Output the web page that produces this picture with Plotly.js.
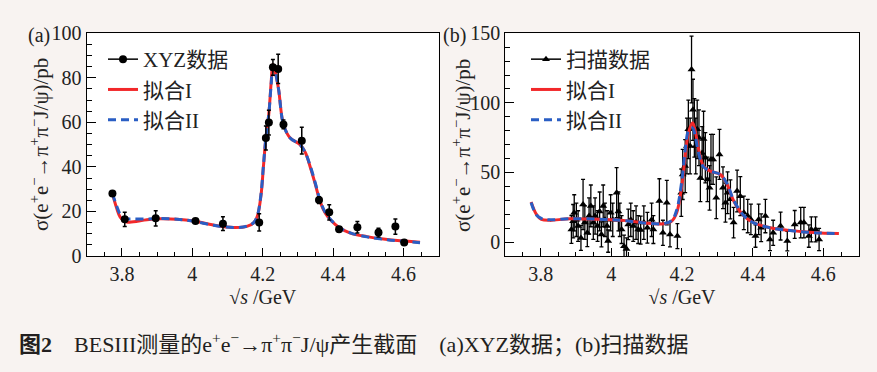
<!DOCTYPE html>
<html><head><meta charset="utf-8">
<script src="https://cdn.plot.ly/plotly-3.0.1.min.js"></script>
<style>html,body{margin:0;padding:0;background:#f8f3f1;}#chart{width:877px;height:372px;}</style>
</head><body><div id="chart"></div>
<script>
// Panel (a): XYZ data
const xyzX = [3.773,3.808,3.896,4.009,4.087,4.190,4.209,4.2175,4.229,4.244,4.259,4.311,4.360,4.389,4.417,4.469,4.529,4.577,4.602];
const xyzY = [28.1,16.5,16.9,15.7,14.5,15.1,53.0,59.9,84.7,84.0,59.1,51.8,25.1,19.6,12.0,12.9,10.5,13.2,6.1];
const xyzErr = [1.0,3.2,3.4,1.0,3.1,3.9,5.4,5.6,3.5,6.6,2.0,6.0,1.5,3.4,1.0,2.6,2.0,3.4,1.0];

// Panel (a): fit curves
const fitAX = [3.773,3.785,3.795,3.81,3.833,3.871,3.909,3.956,4.004,4.06,4.117,4.155,4.175,4.185,4.195,4.202,4.209,4.2175,4.224,4.229,4.235,4.245,4.259,4.278,4.306,4.321,4.335,4.349,4.363,4.378,4.395,4.417,4.449,4.496,4.543,4.591,4.647];
const fitA1 = [28.0,21.5,17.5,15.3,15.4,16.3,16.7,16.5,15.7,13.9,12.8,13.3,15.0,18.0,27,40,53,64,78,86,83,75,59,53,50,46.5,40,32.5,24.5,19.2,15.8,12.8,10.3,8.7,7.6,6.8,6.2];
const fitA2 = [28.0,22.5,18.8,16.8,16.6,16.6,16.8,16.5,15.6,13.8,12.8,13.4,15.1,18.2,27.5,40.5,53,64,77,85,83,75,59,53,50,46.5,40.5,33,25,19.5,16,12.8,10.4,8.6,7.5,6.7,6.0];

// Panel (b): scan data
const scanX = [3.887,3.892,3.895,3.901,3.906,3.914,3.920,3.925,3.932,3.937,3.942,3.949,3.954,3.961,3.967,3.972,3.977,3.982,3.988,3.991,3.998,4.004,4.015,4.020,4.024,4.029,4.036,4.043,4.048,4.055,4.062,4.070,4.076,4.083,4.092,4.102,4.114,4.119,4.136,4.146,4.157,4.166,4.187,4.198,4.202,4.209,4.214,4.218,4.223,4.227,4.231,4.235,4.239,4.243,4.248,4.252,4.257,4.261,4.266,4.272,4.278,4.282,4.288,4.297,4.306,4.316,4.323,4.329,4.337,4.346,4.356,4.365,4.375,4.386,4.395,4.408,4.417,4.424,4.436,4.449,4.458,4.479,4.498,4.519,4.536,4.545,4.559,4.566,4.578,4.588];
const scanY = [9.1,15,21,16,11.5,3,27,14,6.7,18.7,26,14,18.7,11.5,22,5.5,26,16,11.5,0.7,21,16,35.5,22,16,9,-3,-5,12.7,16,11.5,14,9,8.6,14,10.3,16,9,29.5,6.7,28.3,5.5,4.3,35.5,48.6,54.6,69,81,69,124,95,82,69,81,75,46,64,74,60.6,45,39,59.4,59.4,31.9,63,39,28.3,35.5,30.7,14,36.7,33,21,18.7,16.3,4.3,16.3,10.3,18.7,1.9,6.7,11.5,0.7,12.7,14,14,4.3,9.1,9.1,1.9];
const scanErr = [10,12,13,12,11,9,18,12,10,13,15,12,13,11,14,9,15,12,11,8,13,12,18,14,12,10,8,8,11,12,11,12,10,10,12,11,12,10,16,9,16,9,9,17,18,19,20,21,20,24,22,21,20,21,20,17,19,20,18,16,16,18,18,15,18,15,14,15,14,11,15,14,12,12,11,8,11,10,12,8,9,10,7,10,11,11,8,9,9,8];

// Panel (b): fit curves
const fitBX = [3.773,3.788,3.802,3.826,3.882,3.977,4.034,4.091,4.148,4.171,4.185,4.1995,4.209,4.2185,4.23,4.2375,4.247,4.261,4.28,4.3085,4.3275,4.3464,4.375,4.403,4.45,4.498,4.545,4.593,4.644];
const fitB1 = [28.8,19.9,16.3,15.6,16.8,16.3,15.6,13.9,13.2,15.1,21.1,40.3,61.8,78.6,85.8,79.8,66.6,54.6,51.0,48.6,41.5,29.5,18.7,13.9,10.3,8.6,7.4,6.5,6.2];
const fitB2 = [28.5,19.5,17.0,16.0,16.8,16.3,15.5,13.8,13.3,15.5,23,44,66,80,82,76,64,54,51,48.5,42,30,19,13.8,10.3,8.5,7.3,6.5,6.2];

const xTickVals = [3.8,4.0,4.2,4.4,4.6];
const xTickText = ['3.8','4','4.2','4.4','4.6'];

const FONT = '"Liberation Serif", "Noto Sans CJK SC", serif';
const RED = '#f2282a', BLUE = '#2a5ec4';

const traces = [
  // (a)
  {x:fitAX, y:fitA1, xaxis:'x', yaxis:'y', mode:'lines', line:{color:RED, width:3, shape:'spline'}, name:'拟合I', legend:'legend', legendrank:2},
  {x:fitAX, y:fitA2, xaxis:'x', yaxis:'y', mode:'lines', line:{color:BLUE, width:3, dash:'8px,5px', shape:'spline'}, name:'拟合II', legend:'legend', legendrank:3},
  {x:xyzX, y:xyzY, xaxis:'x', yaxis:'y', mode:'markers', marker:{symbol:'circle', size:8, color:'#000'},
   error_y:{type:'data', array:xyzErr, color:'#000', thickness:1.5, width:2}, showlegend:false, legendgroup:'a'},
  {x:[null], y:[null], xaxis:'x', yaxis:'y', mode:'lines+markers', marker:{symbol:'circle', size:8, color:'#000'}, line:{color:'#000', width:1.5}, name:'XYZ数据', legend:'legend', legendrank:1, legendgroup:'a'},
  // (b)
  {x:scanX, y:scanY, xaxis:'x2', yaxis:'y2', mode:'markers', marker:{symbol:'triangle-up', size:7, color:'#000'},
   error_y:{type:'data', array:scanErr, color:'#000', thickness:1.3, width:2}, showlegend:false, legendgroup:'b'},
  {x:[null], y:[null], xaxis:'x2', yaxis:'y2', mode:'lines+markers', marker:{symbol:'triangle-up', size:7, color:'#000'}, line:{color:'#000', width:1.5}, name:'扫描数据', legend:'legend2', legendrank:1, legendgroup:'b'},
  {x:fitBX, y:fitB1, xaxis:'x2', yaxis:'y2', mode:'lines', line:{color:RED, width:3, shape:'spline'}, name:'拟合I', legend:'legend2', legendrank:2},
  {x:fitBX, y:fitB2, xaxis:'x2', yaxis:'y2', mode:'lines', line:{color:BLUE, width:3, dash:'8px,5px', shape:'spline'}, name:'拟合II', legend:'legend2', legendrank:3},
];

function xAxis(domain, anchor){
  return {domain:domain, anchor:anchor, range:[3.7,4.7], tickvals:xTickVals, ticktext:xTickText,
    ticks:'inside', ticklen:8, tickwidth:1, tickcolor:'#000', showline:true, linecolor:'#000', linewidth:1.2, mirror:true,
    showgrid:false, zeroline:false, tickfont:{family:FONT, size:20, color:'#222'},
    minor:{dtick:0.05, tick0:3.7, ticks:'inside', ticklen:4, tickcolor:'#000', showgrid:false},
    title:{text:'√<i>s</i> /GeV', font:{family:FONT, size:20, color:'#222'}, standoff:5}};
}
function yAxis(domain, anchor, range, dtick, minor){
  return {domain:domain, anchor:anchor, range:range, dtick:dtick, tick0:0,
    ticks:'inside', ticklen:9, tickwidth:1, tickcolor:'#000', showline:true, linecolor:'#000', linewidth:1.2, mirror:true,
    showgrid:false, zeroline:false, tickfont:{family:FONT, size:20, color:'#222'},
    minor:{dtick:minor, ticks:'inside', ticklen:5, tickcolor:'#000', showgrid:false}};
}
const ytitle = 'σ(e<sup>+</sup>e<sup>−</sup>→π<sup>+</sup>π<sup>−</sup>J/ψ)/pb';
const layout = {
  width:877, height:372, margin:{l:0,r:0,t:0,b:0},
  paper_bgcolor:'#f8f3f1', plot_bgcolor:'#ffffff',
  font:{family:FONT, color:'#222'},
  xaxis: xAxis([0.0989,0.5002],'y'),
  yaxis: yAxis([0.3118,0.9105],'x',[0,100],20,5),
  xaxis2: xAxis([0.5762,0.9791],'y2'),
  yaxis2: yAxis([0.3118,0.9105],'x2',[-10,150],50,10),
  legend:{x:103/877, y:1-39/372, xanchor:'left', yanchor:'top', bgcolor:'rgba(0,0,0,0)', font:{family:FONT, size:21, color:'#222'}, traceorder:'normal', itemwidth:30},
  legend2:{x:526/877, y:1-39/372, xanchor:'left', yanchor:'top', bgcolor:'rgba(0,0,0,0)', font:{family:FONT, size:21, color:'#222'}, traceorder:'normal', itemwidth:30},
  annotations:[
    {text:'(a)', xref:'paper', yref:'paper', x:26/877, y:1-35/372, xanchor:'left', yanchor:'middle', showarrow:false, font:{family:FONT, size:20, color:'#222'}},
    {text:'(b)', xref:'paper', yref:'paper', x:441/877, y:1-35/372, xanchor:'left', yanchor:'middle', showarrow:false, font:{family:FONT, size:20, color:'#222'}},
    {text:ytitle, xref:'paper', yref:'paper', x:39/877, y:1-145/372, textangle:-90, xanchor:'center', yanchor:'middle', showarrow:false, font:{family:FONT, size:21, color:'#222'}},
    {text:ytitle, xref:'paper', yref:'paper', x:461/877, y:1-146/372, textangle:-90, xanchor:'center', yanchor:'middle', showarrow:false, font:{family:FONT, size:21, color:'#222'}},
    {text:'<b>图2</b>　BESIII测量的e<sup>+</sup>e<sup>−</sup>→π<sup>+</sup>π<sup>−</sup>J/ψ产生截面　(a)XYZ数据；(b)扫描数据', xref:'paper', yref:'paper', x:17/877, y:1-343/372, xanchor:'left', yanchor:'middle', showarrow:false, font:{family:FONT, size:22, color:'#231f20'}}
  ]
};
Plotly.newPlot('chart', traces, layout, {staticPlot:true, displayModeBar:false});
</script></body></html>
